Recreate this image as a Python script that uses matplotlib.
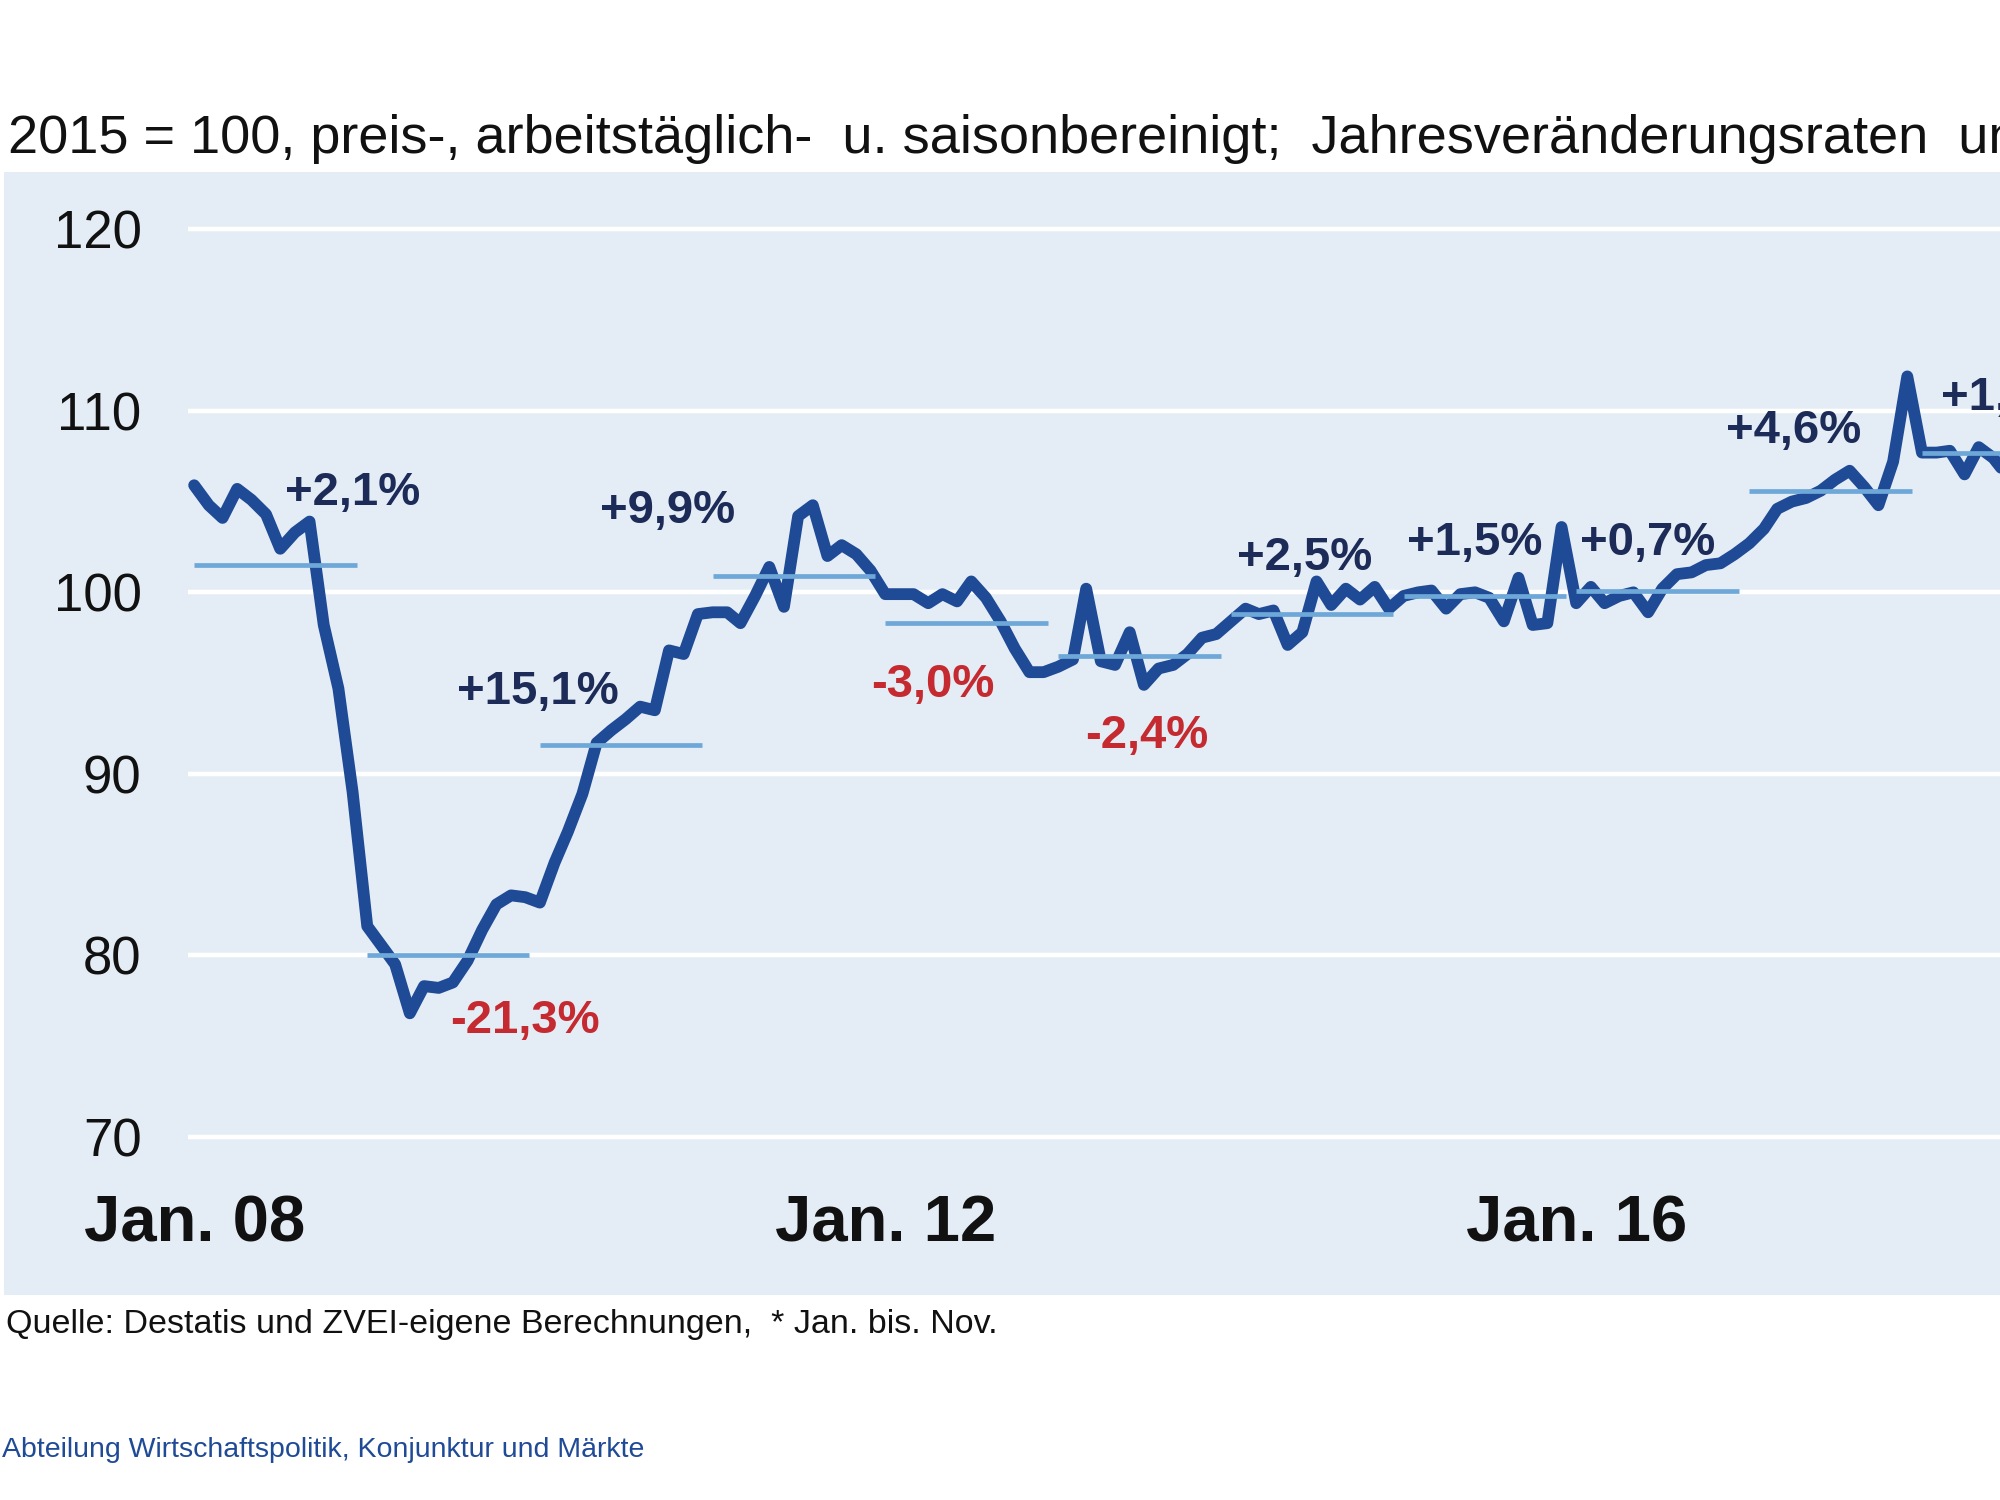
import matplotlib
matplotlib.use("Agg")
import matplotlib.pyplot as plt
import numpy as np
import pandas as pd

plt.rcParams['font.family'] = ['Liberation Sans', 'DejaVu Sans']

# Produktionsindex, monatlich ab Jan. 2008 (2015 = 100)
index_werte = [
    105.9, 104.8, 104.1, 105.7, 105.1, 104.3, 102.4, 103.3, 103.9, 98.2, 94.7, 89.0,    # 2008
    81.6, 80.5, 79.5, 76.8, 78.3, 78.2, 78.5, 79.7, 81.4, 82.8, 83.3, 83.2,             # 2009
    82.9, 85.1, 86.8, 88.9, 91.7, 92.4, 93.0, 93.7, 93.5, 96.8, 96.6, 98.8,             # 2010
    98.9, 98.9, 98.3, 99.8, 101.4, 99.2, 104.2, 104.8, 102.0, 102.6, 102.1, 101.2,      # 2011
    99.9, 99.9, 99.9, 99.4, 99.9, 99.5, 100.6, 99.7, 98.4, 96.9, 95.6, 95.6,            # 2012
    95.9, 96.3, 100.2, 96.2, 96.0, 97.8, 94.9, 95.8, 96.0, 96.6, 97.5, 97.7,            # 2013
    98.4, 99.1, 98.8, 99.0, 97.1, 97.8, 100.6, 99.3, 100.2, 99.6, 100.3, 99.1,          # 2014
    99.8, 100.0, 100.1, 99.1, 99.9, 100.0, 99.7, 98.4, 100.8, 98.2, 98.3, 103.6,        # 2015
    99.4, 100.3, 99.4, 99.8, 100.0, 98.9, 100.2, 101.0, 101.1, 101.5, 101.6, 102.1,     # 2016
    102.7, 103.5, 104.6, 105.0, 105.2, 105.6, 106.2, 106.7, 105.8, 104.8, 107.2, 111.9, # 2017
    107.7, 107.7, 107.8, 106.5, 108.0, 107.4, 106.4,                                    # 2018
]
monate = pd.date_range("2008-01-01", periods=len(index_werte), freq="MS")

# Jahresdurchschnitte und Jahresveränderungsraten
jahre = [2008, 2009, 2010, 2011, 2012, 2013, 2014, 2015, 2016, 2017, 2018]
jahresmittel = [101.5, 80.0, 91.6, 100.9, 98.3, 96.5, 98.8, 99.8, 100.1, 105.6, 107.7]
raten = ["+2,1%", "-21,3%", "+15,1%", "+9,9%", "-3,0%", "-2,4%",
         "+2,5%", "+1,5%", "+0,7%", "+4,6%", "+1,9%"]

# Position der Beschriftungen (Datum, Wert)
label_pos = [("2008-12-01", 105.5), ("2009-12-01", 76.4), ("2009-12-28", 94.5),
             ("2010-09-28", 104.5), ("2012-04-10", 94.9), ("2013-07-06", 92.1),
             ("2014-06-06", 101.9), ("2015-06-01", 102.7), ("2016-06-01", 102.7),
             ("2017-04-04", 108.9), ("2018-02-10", 110.7)]

y_ticks = [70, 80, 90, 100, 110, 120]
x_ticks = ["2008-01-01", "2012-01-01", "2016-01-01"]
x_labels = ["Jan. 08", "Jan. 12", "Jan. 16"]

hintergrund = "#e4edf5"
linie = "#1f4a96"
mittel_farbe = "#6ea8d8"
plus_farbe = "#1c2b57"
minus_farbe = "#c42a2f"

fig = plt.figure(figsize=(20, 15), dpi=100)
ax = fig.add_axes([0.002, 0.1367, 0.998, 0.7486])
ax.set_facecolor(hintergrund)

x_min = pd.Timestamp("2006-11-25")
x_max = pd.Timestamp("2018-06-15")
ax.set_xlim(x_min, x_max)
ax.set_ylim(61.28, 123.16)

# weiße Gitterlinien
ax.hlines(y_ticks, pd.Timestamp("2007-12-20"), x_max, color="white", lw=3.2, zorder=1)

ax.plot(monate, index_werte, color=linie, lw=8.5, solid_joinstyle="round",
        solid_capstyle="round", zorder=3)

# Jahresdurchschnitte
for jahr, wert in zip(jahre, jahresmittel):
    ax.hlines(wert, pd.Timestamp(f"{jahr}-01-01"), pd.Timestamp(f"{jahr}-12-10"),
              color=mittel_farbe, lw=3.4, zorder=4)

for text, (datum, wert) in zip(raten, label_pos):
    farbe = minus_farbe if text.startswith("-") else plus_farbe
    ha = "left" if datum.startswith("2018") else "center"
    ax.text(pd.Timestamp(datum), wert, text, color=farbe, fontsize=34,
            fontweight="bold", ha=ha, va="center", zorder=5)

for s in ax.spines.values():
    s.set_visible(False)

ax.set_yticks(y_ticks)
ax.set_yticklabels([str(t) for t in y_ticks], fontsize=38, color="#111111")
ax.tick_params(axis="y", length=0, pad=-99)

ax.set_xticks([pd.Timestamp(d) for d in x_ticks])
ax.set_xticklabels(x_labels, fontsize=47, fontweight="bold", color="#111111")
ax.tick_params(axis="x", length=0, pad=-72)

fig.text(0.004, 1 - 153 / 1500,
         "2015 = 100, preis-, arbeitstäglich-  u. saisonbereinigt;  "
         "Jahresveränderungsraten  und Jahresdurchschnitte",
         fontsize=39, ha="left", va="baseline", color="#111111")

fig.text(0.003, 1 - 1324 / 1500,
         "Quelle: Destatis und ZVEI-eigene Berechnungen,  * Jan. bis. Nov.",
         fontsize=24.5, ha="left", va="center", color="#111111")
fig.text(0.001, 1 - 1450 / 1500,
         "Abteilung Wirtschaftspolitik, Konjunktur und Märkte",
         fontsize=20.5, ha="left", va="center", color="#1f4a96")

fig.savefig("out.png", dpi=100, facecolor="white")
